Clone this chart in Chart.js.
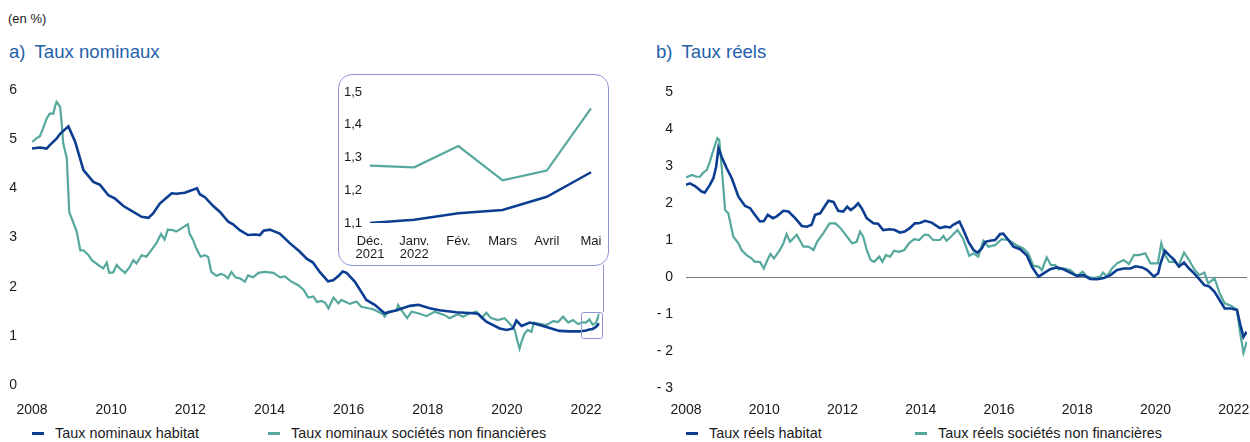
<!DOCTYPE html>
<html><head><meta charset="utf-8">
<script src="https://cdn.jsdelivr.net/npm/chart.js@4.4.1/dist/chart.umd.min.js"></script>
<style>
body{margin:0;width:1250px;height:442px;position:relative;background:#fff;font-family:'Liberation Sans',Arial,sans-serif;overflow:hidden;color:#1a1a1a}
.abs{position:absolute;white-space:nowrap}
#unit{left:8px;top:11px;font-size:13px;line-height:16px}
.title{font-size:18.6px;line-height:22px;color:#2460ab;top:41px}
#tA{left:9px}#tB{left:656px}
.title span{margin-right:9px}
canvas{position:absolute}
.leg{position:absolute;top:425px;font-size:14.4px;line-height:17px;white-space:nowrap}
.dash{display:inline-block;width:12px;height:3px;vertical-align:middle;margin-right:11px;position:relative;top:-1px}
#inset{position:absolute;left:338px;top:74px;width:269px;height:190px;border:1px solid #8f97d3;border-radius:14px;background:#fff}
</style></head>
<body>
<div id="unit" class="abs">(en %)</div>
<div id="tA" class="abs title"><span>a)</span>Taux nominaux</div>
<div id="tB" class="abs title"><span>b)</span>Taux réels</div>

<canvas id="cA" width="620" height="340" style="left:0;top:80px"></canvas>
<canvas id="cB" width="610" height="340" style="left:640px;top:80px"></canvas>
<div id="inset"><canvas id="cI" width="268" height="189" style="left:0;top:0"></canvas></div>

<div class="leg" style="left:32px"><span class="dash" style="background:#0b3d91"></span>Taux nominaux habitat</div>
<div class="leg" style="left:268px"><span class="dash" style="background:#56a89d"></span>Taux nominaux sociétés non financières</div>
<div class="leg" style="left:686px"><span class="dash" style="background:#0b3d91"></span>Taux réels habitat</div>
<div class="leg" style="left:915px"><span class="dash" style="background:#56a89d"></span>Taux réels sociétés non financières</div>

<script>
// ---- Data (decimal years, %) ----
const xTickYears = [2008,2010,2012,2014,2016,2018,2020,2022];
const yTicksNominal = [0,1,2,3,4,5,6];
const yTicksReal = [-3,-2,-1,0,1,2,3,4,5];

const nomHabT = [2008.00,2008.20,2008.37,2008.45,2008.62,2008.71,2008.92,2009.09,2009.30,2009.55,2009.72,2009.93,2010.10,2010.31,2010.56,2010.77,2010.94,2011.06,2011.23,2011.40,2011.53,2011.65,2011.86,2012.03,2012.17,2012.24,2012.37,2012.58,2012.75,2012.96,2013.08,2013.25,2013.46,2013.63,2013.76,2013.85,2014.01,2014.26,2014.52,2014.77,2014.94,2015.10,2015.27,2015.48,2015.61,2015.75,2015.85,2015.95,2016.16,2016.45,2016.66,2016.91,2017.21,2017.55,2017.76,2018.05,2018.30,2018.72,2019.14,2019.27,2019.48,2019.82,2019.99,2020.15,2020.24,2020.37,2020.58,2020.83,2021.04,2021.33,2021.58,2021.83,2021.917,2022.0,2022.083,2022.167,2022.25,2022.333];
const nomHabV = [4.81,4.83,4.81,4.88,5.01,5.11,5.26,4.95,4.37,4.13,4.07,3.86,3.79,3.64,3.52,3.42,3.40,3.49,3.69,3.81,3.90,3.89,3.91,3.96,4.00,3.88,3.82,3.64,3.52,3.32,3.27,3.15,3.05,3.06,3.05,3.14,3.16,3.08,2.88,2.71,2.57,2.49,2.30,2.11,2.13,2.22,2.31,2.28,2.10,1.73,1.63,1.46,1.52,1.61,1.63,1.56,1.52,1.48,1.46,1.45,1.29,1.15,1.12,1.15,1.31,1.20,1.27,1.22,1.17,1.10,1.09,1.09,1.10,1.11,1.13,1.14,1.18,1.255];

const nomSnfT = [2008.00,2008.05,2008.10,2008.20,2008.28,2008.37,2008.45,2008.54,2008.58,2008.62,2008.71,2008.75,2008.79,2008.88,2008.94,2009.05,2009.13,2009.22,2009.30,2009.43,2009.51,2009.68,2009.80,2009.89,2009.95,2010.05,2010.14,2010.22,2010.35,2010.47,2010.56,2010.64,2010.77,2010.89,2011.01,2011.14,2011.26,2011.35,2011.43,2011.56,2011.64,2011.77,2011.90,2011.94,2011.98,2012.07,2012.15,2012.26,2012.36,2012.45,2012.53,2012.66,2012.78,2012.87,2012.95,2013.04,2013.14,2013.25,2013.38,2013.46,2013.59,2013.72,2013.89,2014.10,2014.27,2014.39,2014.56,2014.73,2014.86,2014.98,2015.11,2015.20,2015.32,2015.41,2015.49,2015.62,2015.74,2015.82,2016.03,2016.20,2016.32,2016.62,2016.87,2016.91,2017.00,2017.21,2017.25,2017.34,2017.48,2017.59,2017.76,2017.97,2018.17,2018.43,2018.55,2018.76,2018.89,2019.06,2019.23,2019.36,2019.48,2019.60,2019.77,2019.94,2020.07,2020.20,2020.26,2020.32,2020.38,2020.45,2020.53,2020.62,2020.68,2020.79,2021.00,2021.17,2021.29,2021.42,2021.55,2021.67,2021.80,2021.917,2022.0,2022.083,2022.167,2022.25,2022.333];
const nomSnfV = [4.95,4.97,5.01,5.06,5.22,5.42,5.52,5.52,5.66,5.76,5.66,5.32,4.91,4.61,3.52,3.29,3.12,2.74,2.74,2.64,2.54,2.44,2.37,2.49,2.28,2.29,2.44,2.37,2.28,2.40,2.54,2.47,2.64,2.61,2.74,2.88,3.07,2.96,3.16,3.15,3.12,3.18,3.25,3.27,3.08,2.95,2.78,2.61,2.64,2.61,2.30,2.22,2.26,2.23,2.17,2.30,2.19,2.17,2.10,2.23,2.19,2.28,2.30,2.28,2.19,2.21,2.10,2.03,1.94,1.78,1.80,1.69,1.71,1.67,1.56,1.78,1.66,1.73,1.65,1.70,1.59,1.54,1.44,1.39,1.49,1.51,1.63,1.52,1.36,1.49,1.46,1.40,1.49,1.42,1.36,1.44,1.39,1.46,1.49,1.36,1.47,1.36,1.32,1.36,1.25,1.12,0.91,0.74,0.91,1.05,1.12,1.08,1.27,1.25,1.22,1.30,1.28,1.39,1.27,1.32,1.24,1.275,1.27,1.335,1.23,1.26,1.45];

const realHabT = [2008.00,2008.10,2008.23,2008.40,2008.48,2008.61,2008.70,2008.77,2008.83,2008.91,2009.04,2009.17,2009.34,2009.51,2009.64,2009.76,2009.89,2009.99,2010.09,2010.22,2010.32,2010.49,2010.62,2010.79,2010.96,2011.09,2011.21,2011.30,2011.43,2011.55,2011.64,2011.77,2011.89,2012.02,2012.12,2012.21,2012.32,2012.40,2012.49,2012.62,2012.79,2012.91,2013.04,2013.21,2013.34,2013.47,2013.59,2013.72,2013.85,2013.98,2014.11,2014.28,2014.49,2014.62,2014.75,2014.83,2014.99,2015.09,2015.22,2015.35,2015.45,2015.56,2015.65,2015.77,2015.90,2016.03,2016.11,2016.24,2016.37,2016.54,2016.71,2016.84,2017.01,2017.14,2017.31,2017.48,2017.65,2017.86,2017.99,2018.16,2018.33,2018.51,2018.68,2018.85,2019.02,2019.19,2019.36,2019.49,2019.66,2019.79,2019.96,2020.07,2020.13,2020.24,2020.35,2020.48,2020.60,2020.73,2020.86,2020.99,2021.12,2021.25,2021.38,2021.51,2021.64,2021.77,2021.94,2022.083,2022.167,2022.25,2022.333];
const realHabV = [2.49,2.53,2.46,2.31,2.28,2.49,2.67,2.98,3.48,3.25,2.94,2.67,2.17,1.92,1.86,1.68,1.50,1.51,1.68,1.59,1.64,1.79,1.77,1.59,1.38,1.36,1.41,1.68,1.72,1.92,2.06,2.03,1.79,1.77,1.90,1.81,1.90,1.99,1.86,1.59,1.45,1.44,1.27,1.29,1.27,1.20,1.23,1.32,1.45,1.46,1.52,1.47,1.32,1.36,1.34,1.41,1.50,1.27,0.95,0.73,0.66,0.77,0.95,0.98,1.00,1.16,1.17,1.00,0.82,0.75,0.59,0.28,0.01,0.10,0.21,0.26,0.21,0.10,0.03,0.05,-0.05,-0.06,-0.03,0.05,0.19,0.23,0.23,0.29,0.26,0.19,0.01,0.10,0.37,0.71,0.59,0.46,0.28,0.39,0.23,0.10,-0.06,-0.22,-0.26,-0.40,-0.62,-0.85,-0.85,-0.89,-1.28,-1.62,-1.48];

const realSnfT = [2008.00,2008.15,2008.27,2008.36,2008.44,2008.53,2008.61,2008.70,2008.80,2008.85,2008.91,2009.00,2009.08,2009.21,2009.34,2009.42,2009.55,2009.68,2009.76,2009.89,2009.99,2010.08,2010.16,2010.25,2010.40,2010.49,2010.57,2010.66,2010.83,2011.00,2011.13,2011.26,2011.35,2011.52,2011.67,2011.82,2011.95,2012.08,2012.25,2012.36,2012.45,2012.53,2012.62,2012.72,2012.81,2012.94,2013.02,2013.11,2013.22,2013.32,2013.45,2013.58,2013.70,2013.83,2013.96,2014.09,2014.19,2014.32,2014.49,2014.58,2014.66,2014.79,2014.94,2015.09,2015.24,2015.35,2015.47,2015.60,2015.73,2015.90,2016.07,2016.24,2016.45,2016.62,2016.75,2016.88,2017.01,2017.10,2017.22,2017.33,2017.44,2017.52,2017.65,2017.82,2017.99,2018.14,2018.25,2018.42,2018.59,2018.66,2018.76,2018.89,2019.02,2019.19,2019.32,2019.45,2019.57,2019.74,2019.87,2020.06,2020.15,2020.22,2020.35,2020.48,2020.60,2020.73,2020.86,2020.99,2021.12,2021.25,2021.35,2021.51,2021.64,2021.77,2021.94,2022.083,2022.167,2022.25,2022.333];
const realSnfV = [2.69,2.76,2.71,2.71,2.82,2.89,3.12,3.43,3.75,3.70,3.00,1.81,1.72,1.09,0.91,0.73,0.59,0.50,0.41,0.41,0.23,0.46,0.62,0.50,0.73,0.91,1.16,0.95,1.14,0.82,0.82,0.73,0.95,1.20,1.45,1.45,1.32,1.14,0.91,0.95,1.23,1.09,0.73,0.46,0.41,0.55,0.41,0.59,0.55,0.71,0.68,0.73,0.91,1.02,1.00,1.14,1.14,1.00,1.00,1.11,0.98,1.11,1.27,1.02,0.57,0.64,0.55,0.98,0.82,0.86,1.02,1.00,0.86,0.77,0.64,0.30,0.28,0.19,0.53,0.32,0.32,0.21,0.23,0.19,0.03,0.14,0.01,-0.03,0.01,0.12,0.01,0.23,0.37,0.46,0.35,0.59,0.59,0.64,0.37,0.37,0.91,0.64,0.41,0.41,0.32,0.66,0.46,0.21,0.05,0.12,-0.17,-0.03,-0.44,-0.71,-0.78,-0.89,-1.52,-2.05,-1.75];

// Inset: Dec 2021 - May 2022
const insetLabels = [['Déc.','2021'],['Janv.','2022'],'Fév.','Mars','Avril','Mai'];
const insetHab = [1.10,1.11,1.13,1.14,1.18,1.255];
const insetSnf = [1.275,1.27,1.335,1.23,1.26,1.45];
const insetTicks = [1.1,1.2,1.3,1.4,1.5];
// zoomed window highlighted on panel a)
const zoomWindow = {x0:2021.88, x1:2022.42, y0:0.96, y1:1.48};

// ---- Styles ----
const BLUE = '#0b3d91', TEAL = '#56a89d', TXT = '#1a1a1a', FRAME = '#8f97d3';
const FONT = 'Liberation Sans, Arial, sans-serif';
Chart.defaults.font.family = FONT;
Chart.defaults.color = TXT;

const zip = (t, v) => t.map((x, i) => ({x, y: v[i]}));
const lineDs = (label, data, color, w) => ({label, data, borderColor: color, backgroundColor: color, borderWidth: w, pointRadius: 0, tension: 0, fill: false});
const noPadX = (s, h) => { s.height = h; s.paddingLeft = 0; s.paddingRight = 0; };
const noPadY = (s, w) => { s.width = w; s.paddingTop = 0; s.paddingBottom = 0; };

function mainOptions(yMin, yMax, yTicks, yWidth, yPad, xHeight, xPad, padTop, padRight, zeroLine){
  return {
    responsive: false, animation: false,
    layout: {padding: {left: 0, right: padRight, top: padTop, bottom: 0}},
    plugins: {legend: {display: false}, tooltip: {enabled: false}},
    scales: {
      x: {type: 'linear', min: 2008, max: 2022.34,
        afterBuildTicks: s => { s.ticks = xTickYears.map(v => ({value: v})); },
        afterFit: s => noPadX(s, xHeight),
        ticks: {callback: v => String(v), font: {size: 14}, color: TXT, padding: xPad, maxRotation: 0, autoSkip: false},
        grid: {display: false, drawTicks: false}, border: {display: false}},
      y: {min: yMin, max: yMax,
        afterBuildTicks: s => { s.ticks = yTicks.map(v => ({value: v})); },
        afterFit: s => noPadY(s, yWidth),
        ticks: {callback: v => v < 0 ? '- ' + Math.abs(v) : String(v), font: {size: 14}, color: TXT, padding: yPad},
        grid: zeroLine ? {display: true, drawTicks: false, lineWidth: 1, color: c => (c.tick && c.tick.value === 0) ? '#7a7a7a' : 'rgba(0,0,0,0)'} : {display: false, drawTicks: false},
        border: {display: false}}
    }
  };
}

const zoomFrame = {
  id: 'zoomFrame',
  afterDatasetsDraw(chart){
    const {ctx, scales: {x, y}} = chart;
    const l = x.getPixelForValue(zoomWindow.x0), r = x.getPixelForValue(zoomWindow.x1);
    const t = y.getPixelForValue(zoomWindow.y1), b = y.getPixelForValue(zoomWindow.y0);
    ctx.save();
    ctx.strokeStyle = FRAME; ctx.lineWidth = 1;
    ctx.beginPath();
    ctx.roundRect(Math.round(l) + 0.5, Math.round(t) + 0.5, Math.round(r - l), Math.round(b - t), 2);
    ctx.stroke();
    ctx.beginPath();
    ctx.moveTo(Math.round(r) + 0.5, Math.round(t));
    ctx.lineTo(Math.round(r) + 0.5, 185);
    ctx.stroke();
    ctx.restore();
  }
};

new Chart(document.getElementById('cA'), {
  type: 'line',
  data: {datasets: [
    lineDs('Taux nominaux habitat', zip(nomHabT, nomHabV), BLUE, 2.6),
    lineDs('Taux nominaux sociétés non financières', zip(nomSnfT, nomSnfV), TEAL, 2.2)
  ]},
  options: mainOptions(0, 6, yTicksNominal, 32, 15, 35, 17, 10, 20.5, false),
  plugins: [zoomFrame]
});

new Chart(document.getElementById('cB'), {
  type: 'line',
  data: {datasets: [
    lineDs('Taux réels habitat', zip(realHabT, realHabV), BLUE, 2.6),
    lineDs('Taux réels sociétés non financières', zip(realSnfT, realSnfV), TEAL, 2.2)
  ]},
  options: mainOptions(-3, 5, yTicksReal, 46, 13, 32, 14, 12, 3, true)
});

new Chart(document.getElementById('cI'), {
  type: 'line',
  data: {labels: insetLabels, datasets: [
    {label: 'Taux nominaux habitat', data: insetHab, borderColor: BLUE, borderWidth: 2.5, pointRadius: 0, tension: 0},
    {label: 'Taux nominaux sociétés non financières', data: insetSnf, borderColor: TEAL, borderWidth: 2.2, pointRadius: 0, tension: 0}
  ]},
  options: {
    responsive: false, animation: false,
    layout: {padding: {left: 0, right: 16, top: 17, bottom: 0}},
    plugins: {legend: {display: false}, tooltip: {enabled: false}},
    scales: {
      x: {type: 'category', offset: false,
        afterFit: s => noPadX(s, 41),
        ticks: {font: {size: 13, lineHeight: 1.0}, color: TXT, padding: 12, maxRotation: 0, autoSkip: false},
        grid: {display: false, drawTicks: false}, border: {display: false}},
      y: {min: 1.1, max: 1.5,
        afterBuildTicks: s => { s.ticks = insetTicks.map(v => ({value: v})); },
        afterFit: s => noPadY(s, 31),
        ticks: {callback: v => v.toFixed(1).replace('.', ','), font: {size: 13}, color: TXT, padding: 8},
        grid: {display: false, drawTicks: false}, border: {display: false}}
    }
  }
});
</script>
</body></html>
